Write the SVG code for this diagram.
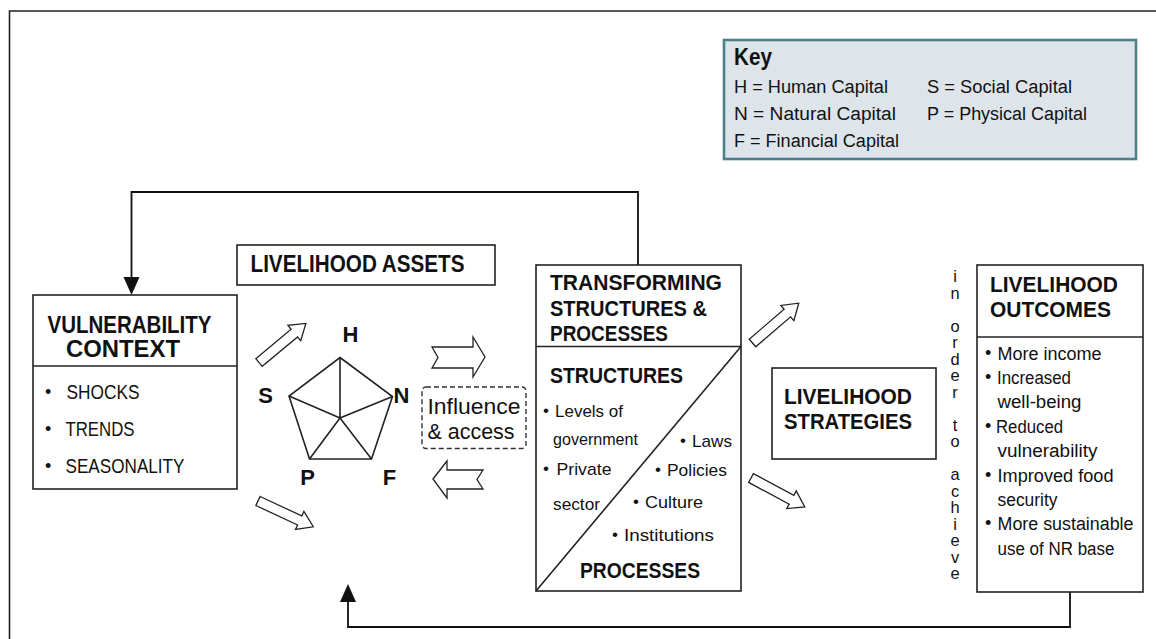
<svg xmlns="http://www.w3.org/2000/svg" xmlns:xlink="http://www.w3.org/1999/xlink" width="1156" height="639" viewBox="0 0 1156 639">
<style>
.box{fill:#fff;stroke:#222;stroke-width:1.6}
.ln{fill:none;stroke:#222;stroke-width:1.6}
.conn{fill:none;stroke:#111;stroke-width:1.8}
.head{fill:#111;stroke:none}
.ha{fill:#fff;stroke:#222;stroke-width:1.3;stroke-linejoin:miter}
.t{font-family:"Liberation Sans",Arial,sans-serif;fill:#111}
.b{font-family:"Liberation Sans",Arial,sans-serif;font-weight:bold;fill:#111}
.r18{font-size:18px}
.r17{font-size:17px}
.h22{font-size:22px}
</style>
<defs>
<path id="harrow" d="M0,-5 H46 V-10 L61,0 L46,10 V5 H0 Z"/>
</defs>
<rect x="0" y="0" width="1156" height="639" fill="#fff"/>
<g id="frame">
<path d="M9.5,639 V11 H1156" class="ln" stroke-width="1.5"/>
</g>
<g id="key">
<rect x="724" y="40" width="412" height="119" fill="#dde4ea" stroke="#4f7f89" stroke-width="2.6"/>
<text class="b" x="734" y="65" font-size="24" textLength="38" lengthAdjust="spacingAndGlyphs">Key</text>
<text class="t r18" x="734" y="93" textLength="154" lengthAdjust="spacingAndGlyphs">H = Human Capital</text>
<text class="t r18" x="734" y="120" textLength="162" lengthAdjust="spacingAndGlyphs">N = Natural Capital</text>
<text class="t r18" x="734" y="147" textLength="165" lengthAdjust="spacingAndGlyphs">F = Financial Capital</text>
<text class="t r18" x="927" y="93" textLength="145" lengthAdjust="spacingAndGlyphs">S = Social Capital</text>
<text class="t r18" x="927" y="120" textLength="160" lengthAdjust="spacingAndGlyphs">P = Physical Capital</text>
</g>
<g id="connectors">
<path d="M638,265 V192 H131.5 V279" class="conn"/>
<path d="M123.5,277 L139.5,277 L131.5,295 Z" class="head"/>
<path d="M1070,592 V627 H348 V600" class="conn"/>
<path d="M340,602 L356,602 L348,584 Z" class="head"/>
<use xlink:href="#harrow" href="#harrow" class="ha" transform="translate(259,362.5) rotate(-39.8)"/>
<use xlink:href="#harrow" href="#harrow" class="ha" transform="translate(258,501) rotate(25)"/>
<use xlink:href="#harrow" href="#harrow" class="ha" transform="translate(752.5,343) rotate(-40.7)"/>
<use xlink:href="#harrow" href="#harrow" class="ha" transform="translate(751,478) rotate(28.2)"/>
<path d="M432,347 H473 V337 L485,357 L473,377 V368 H432 L438,357.5 Z" class="ha"/>
<path d="M433,479 L447,461 V470 H483 L477,479.5 L483,489 H447 V498 Z" class="ha"/>
</g>
<g id="vulnerability-context">
<rect x="33" y="295" width="204" height="194" class="box"/>
<line x1="33" y1="366" x2="237" y2="366" class="ln"/>
<text class="b" x="47.5" y="333" font-size="23" textLength="164" lengthAdjust="spacingAndGlyphs">VULNERABILITY</text>
<text class="b" x="66" y="357" font-size="23" textLength="114" lengthAdjust="spacingAndGlyphs">CONTEXT</text>
<text class="t r18" x="45" y="398">•</text>
<text class="t" font-size="20" x="66.5" y="399" textLength="73" lengthAdjust="spacingAndGlyphs">SHOCKS</text>
<text class="t r18" x="45" y="435">•</text>
<text class="t" font-size="20" x="65.5" y="436" textLength="69" lengthAdjust="spacingAndGlyphs">TRENDS</text>
<text class="t r18" x="45" y="472">•</text>
<text class="t" font-size="20" x="65.5" y="473" textLength="119" lengthAdjust="spacingAndGlyphs">SEASONALITY</text>
</g>
<g id="livelihood-assets">
<rect x="237" y="245" width="258" height="40" class="box"/>
<text class="b" x="250.5" y="272" font-size="23" textLength="214" lengthAdjust="spacingAndGlyphs">LIVELIHOOD ASSETS</text>
</g>
<g id="pentagon">
<path d="M340,357.5 L392.5,396.5 L371.5,459 L309.5,459 L289,396 Z" class="ln" stroke-width="1.6"/>
<path d="M340,418 L340,357.5 M340,418 L392.5,396.5 M340,418 L371.5,459 M340,418 L309.5,459 M340,418 L289,396" class="ln" stroke-width="1.5"/>
<text class="b h22" x="350.5" y="341.5" text-anchor="middle">H</text>
<text class="b h22" x="265.5" y="403" text-anchor="middle">S</text>
<text class="b h22" x="401.5" y="403" text-anchor="middle">N</text>
<text class="b h22" x="307.5" y="485" text-anchor="middle">P</text>
<text class="b h22" x="389.5" y="485" text-anchor="middle">F</text>
</g>
<g id="influence-access">
<rect x="422" y="387" width="104" height="61.5" rx="4" fill="#fff" stroke="#333" stroke-width="1.4" stroke-dasharray="5,3"/>
<text class="t" font-size="22" x="427.5" y="413.5" textLength="93" lengthAdjust="spacingAndGlyphs">Influence</text>
<text class="t" font-size="22" x="427.5" y="438.5" textLength="87" lengthAdjust="spacingAndGlyphs">&amp; access</text>
</g>
<g id="transforming-structures">
<rect x="536" y="265" width="205" height="326" class="box"/>
<line x1="536" y1="346.5" x2="741" y2="346.5" class="ln"/>
<line x1="741" y1="346.5" x2="536" y2="591" class="ln" stroke-width="1.3"/>
<text class="b h22" x="550" y="290" textLength="172" lengthAdjust="spacingAndGlyphs">TRANSFORMING</text>
<text class="b h22" x="550" y="316" textLength="157" lengthAdjust="spacingAndGlyphs">STRUCTURES &amp;</text>
<text class="b h22" x="550" y="341" textLength="118" lengthAdjust="spacingAndGlyphs">PROCESSES</text>
<text class="b h22" x="550" y="383" textLength="133" lengthAdjust="spacingAndGlyphs">STRUCTURES</text>
<text class="t r17" x="543" y="416">•</text>
<text class="t r17" x="555" y="417" textLength="68" lengthAdjust="spacingAndGlyphs">Levels of</text>
<text class="t r17" x="553" y="445" textLength="85" lengthAdjust="spacingAndGlyphs">government</text>
<text class="t r17" x="543" y="474">•</text>
<text class="t r17" x="556.5" y="475" textLength="55" lengthAdjust="spacingAndGlyphs">Private</text>
<text class="t r17" x="553" y="510" textLength="47" lengthAdjust="spacingAndGlyphs">sector</text>
<text class="t r17" x="680" y="446">•</text>
<text class="t r17" x="692" y="447" textLength="40" lengthAdjust="spacingAndGlyphs">Laws</text>
<text class="t r17" x="655" y="475">•</text>
<text class="t r17" x="667" y="476" textLength="60" lengthAdjust="spacingAndGlyphs">Policies</text>
<text class="t r17" x="633" y="507">•</text>
<text class="t r17" x="645" y="508" textLength="58" lengthAdjust="spacingAndGlyphs">Culture</text>
<text class="t r17" x="612" y="540">•</text>
<text class="t r17" x="624" y="541" textLength="90" lengthAdjust="spacingAndGlyphs">Institutions</text>
<text class="b h22" x="580" y="578" textLength="120" lengthAdjust="spacingAndGlyphs">PROCESSES</text>
</g>
<g id="livelihood-strategies">
<rect x="772" y="368" width="164" height="91" class="box"/>
<text class="b h22" x="784" y="404" textLength="128" lengthAdjust="spacingAndGlyphs">LIVELIHOOD</text>
<text class="b h22" x="784" y="429" textLength="128" lengthAdjust="spacingAndGlyphs">STRATEGIES</text>
</g>
<g id="in-order-to-achieve">
<text class="t" font-size="16.4" x="955" y="267" writing-mode="vertical-rl" letter-spacing="-1.5" style="text-orientation:upright">in order to achieve</text>
</g>
<g id="livelihood-outcomes">
<rect x="977" y="265" width="166" height="327" class="box"/>
<line x1="977" y1="337" x2="1143" y2="337" class="ln"/>
<text class="b h22" x="990" y="292" textLength="128" lengthAdjust="spacingAndGlyphs">LIVELIHOOD</text>
<text class="b h22" x="990" y="317" textLength="121" lengthAdjust="spacingAndGlyphs">OUTCOMES</text>
<text class="t r18" x="985" y="359">•</text>
<text class="t r18" x="997.5" y="360" textLength="104" lengthAdjust="spacingAndGlyphs">More income</text>
<text class="t r18" x="985" y="383">•</text>
<text class="t r18" x="997" y="384" textLength="74" lengthAdjust="spacingAndGlyphs">Increased</text>
<text class="t r18" x="997.5" y="408" textLength="84" lengthAdjust="spacingAndGlyphs">well-being</text>
<text class="t r18" x="985" y="432">•</text>
<text class="t r18" x="996" y="433" textLength="67" lengthAdjust="spacingAndGlyphs">Reduced</text>
<text class="t r18" x="997.5" y="457" textLength="100" lengthAdjust="spacingAndGlyphs">vulnerability</text>
<text class="t r18" x="985" y="481">•</text>
<text class="t r18" x="997.5" y="482" textLength="116" lengthAdjust="spacingAndGlyphs">Improved food</text>
<text class="t r18" x="997.5" y="506" textLength="60" lengthAdjust="spacingAndGlyphs">security</text>
<text class="t r18" x="985" y="529">•</text>
<text class="t r18" x="997.5" y="530" textLength="136" lengthAdjust="spacingAndGlyphs">More sustainable</text>
<text class="t r18" x="997.5" y="555" textLength="117" lengthAdjust="spacingAndGlyphs">use of NR base</text>
</g>
</svg>
